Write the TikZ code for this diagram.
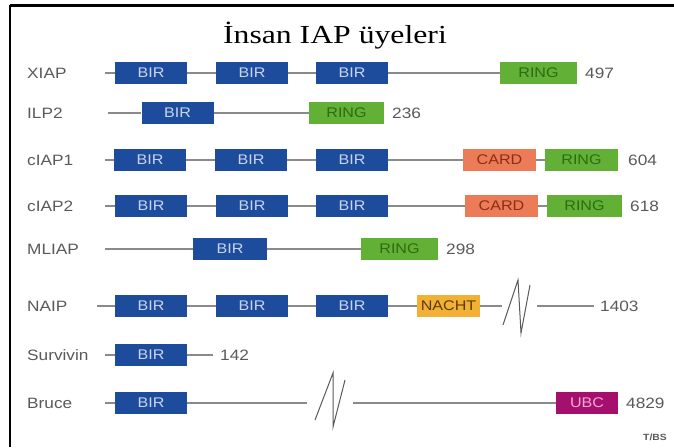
\documentclass[tikz,border=0pt]{standalone}
\usepackage{fontspec}
\setmainfont{Liberation Sans}
\newfontfamily\labelfont[FakeStretch=1.15]{Liberation Sans}
\newfontfamily\titlefont[FakeStretch=1.22]{Liberation Serif}
\definecolor{birblue}{HTML}{1E4C9C}
\definecolor{birtext}{HTML}{C8D4F0}
\definecolor{ringgreen}{HTML}{62B036}
\definecolor{ringtext}{HTML}{2E6B12}
\definecolor{cardred}{HTML}{EC7C58}
\definecolor{cardtext}{HTML}{8A2E14}
\definecolor{nachtorange}{HTML}{F2B134}
\definecolor{nachttext}{HTML}{5C3C00}
\definecolor{ubcpurple}{HTML}{A5106E}
\definecolor{ubctext}{HTML}{F5A8D8}
\definecolor{labgray}{HTML}{5A5A5A}
\definecolor{linegray}{HTML}{8A8A8A}
\begin{document}
\begin{tikzpicture}[x=1pt,y=-1pt,
    dom/.style={inner sep=0pt,minimum height=22pt,font=\labelfont\fontsize{14}{14}\selectfont},
    bir/.style={dom,fill=birblue,text=birtext,minimum width=72pt},
    ring/.style={dom,fill=ringgreen,text=ringtext,minimum width=75pt},
    card/.style={dom,fill=cardred,text=cardtext,minimum width=73pt},
    nacht/.style={dom,fill=nachtorange,text=nachttext,minimum width=63pt},
    ubc/.style={dom,fill=ubcpurple,text=ubctext,minimum width=62pt},
    lab/.style={anchor=west,inner sep=0pt,text=labgray,font=\labelfont\fontsize{15}{15}\selectfont},
    bb/.style={draw=linegray,line width=1.2pt},
    brk/.style={draw=labgray,line width=1pt}]
  \useasboundingbox (0,0) rectangle (674,447);
  \fill[white] (0,0) rectangle (674,447);
  % frame
  \draw[line width=3pt] (10,5) -- (674,5);
  \draw[line width=2pt] (10,5) -- (10,447);
  \node[anchor=base,inner sep=0pt,font=\titlefont\fontsize{26}{26}\selectfont] (title) at (335,43) {İnsan IAP üyeleri};

  % XIAP
  \node[lab] (xiap) at (27,73) {XIAP};
  \coordinate (xiap0) at (105,73);
  \node[bir] (xiap1) at (151,73) {BIR};
  \node[bir] (xiap2) at (252,73) {BIR};
  \node[bir] (xiap3) at (352,73) {BIR};
  \node[ring,minimum width=77pt] (xiap4) at (538.5,73) {RING};
  \node[lab] (xiapn) at (585,73) {497};
  \draw[bb] (xiap0) -- (xiap1) (xiap1) -- (xiap2) (xiap2) -- (xiap3) (xiap3) -- (xiap4);

  % ILP2
  \node[lab] (ilp) at (27,113) {ILP2};
  \coordinate (ilp0) at (108,113);
  \node[bir] (ilp1) at (177.5,113) {BIR};
  \node[ring] (ilp2) at (346.5,113) {RING};
  \node[lab] (ilpn) at (392,113) {236};
  \draw[bb] (ilp0) -- (ilp1) (ilp1) -- (ilp2);

  % cIAP1
  \node[lab] (ciapa) at (27,160) {cIAP1};
  \coordinate (ciapa0) at (105,160);
  \node[bir] (ciapa1) at (150,160) {BIR};
  \node[bir] (ciapa2) at (251,160) {BIR};
  \node[bir] (ciapa3) at (352,160) {BIR};
  \node[card] (ciapa4) at (499.5,160) {CARD};
  \node[ring,minimum width=73pt] (ciapa5) at (581.5,160) {RING};
  \node[lab] (ciapan) at (628,160) {604};
  \draw[bb] (ciapa0) -- (ciapa1) (ciapa1) -- (ciapa2) (ciapa2) -- (ciapa3) (ciapa3) -- (ciapa4) (ciapa4) -- (ciapa5);

  % cIAP2
  \node[lab] (ciapb) at (27,206) {cIAP2};
  \coordinate (ciapb0) at (105,206);
  \node[bir] (ciapb1) at (151,206) {BIR};
  \node[bir] (ciapb2) at (252,206) {BIR};
  \node[bir] (ciapb3) at (352,206) {BIR};
  \node[card] (ciapb4) at (501.5,206) {CARD};
  \node[ring] (ciapb5) at (584.5,206) {RING};
  \node[lab] (ciapbn) at (630,206) {618};
  \draw[bb] (ciapb0) -- (ciapb1) (ciapb1) -- (ciapb2) (ciapb2) -- (ciapb3) (ciapb3) -- (ciapb4) (ciapb4) -- (ciapb5);

  % MLIAP
  \node[lab] (mliap) at (27,249) {MLIAP};
  \coordinate (mliap0) at (105,249);
  \node[bir,minimum width=74pt] (mliap1) at (230,249) {BIR};
  \node[ring,minimum width=77pt] (mliap2) at (399.5,249) {RING};
  \node[lab] (mliapn) at (446,249) {298};
  \draw[bb] (mliap0) -- (mliap1) (mliap1) -- (mliap2);

  % NAIP
  \node[lab] (naip) at (27,306) {NAIP};
  \coordinate (naip0) at (97,306);
  \node[bir] (naip1) at (151,306) {BIR};
  \node[bir] (naip2) at (252,306) {BIR};
  \node[bir] (naip3) at (352,306) {BIR};
  \node[nacht] (naip4) at (448.5,306) {NACHT};
  \coordinate (naipa) at (502,306);
  \coordinate (naipb) at (537,306);
  \coordinate (naipc) at (594,306);
  \node[lab] (naipn) at (600,306) {1403};
  \draw[bb] (naip0) -- (naip1) (naip1) -- (naip2) (naip2) -- (naip3) (naip3) -- (naip4) (naip4) -- (naipa) (naipb) -- (naipc);
  \draw[brk] (503,325) -- (518,280) -- (521,333) -- (530,285);

  % Survivin
  \node[lab] (surv) at (27,355) {Survivin};
  \coordinate (surv0) at (105,355);
  \node[bir] (surv1) at (151,355) {BIR};
  \coordinate (surva) at (213,355);
  \node[lab] (survn) at (220,355) {142};
  \draw[bb] (surv0) -- (surv1) (surv1) -- (surva);

  % Bruce
  \node[lab] (bruce) at (27,403) {Bruce};
  \coordinate (bruce0) at (105,403);
  \node[bir] (bruce1) at (151,403) {BIR};
  \coordinate (brucea) at (307,403);
  \coordinate (bruceb) at (353,403);
  \node[ubc] (bruce2) at (587,403) {UBC};
  \node[lab] (brucen) at (626,403) {4829};
  \draw[bb] (bruce0) -- (bruce1) (bruce1) -- (brucea) (bruceb) -- (bruce2);
  \draw[brk] (315,420) -- (333,373) -- (333,427) -- (345,380);

  \node[lab,font=\labelfont\bfseries\fontsize{9}{9}\selectfont] (tbs) at (643,437) {T/BS};
\end{tikzpicture}
\end{document}
